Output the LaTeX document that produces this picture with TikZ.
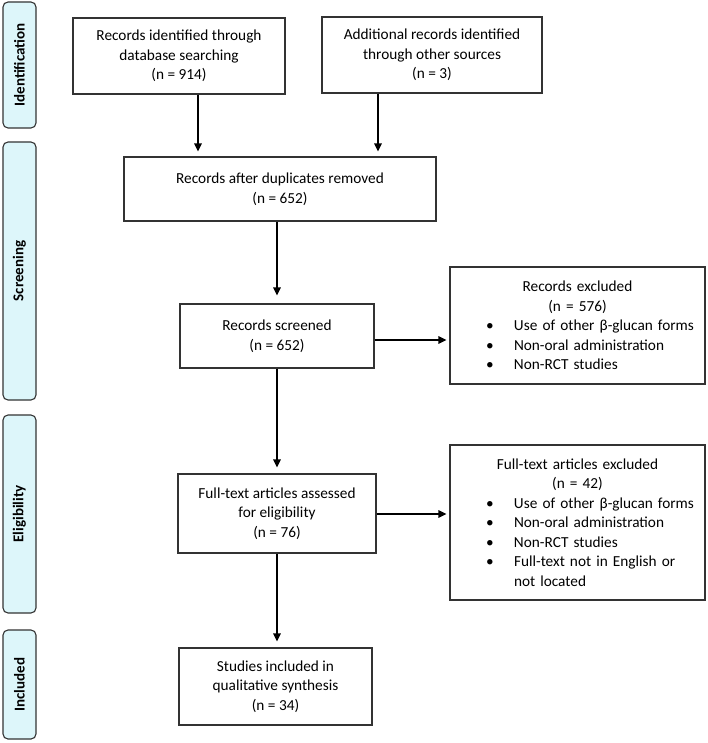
\documentclass[tikz,border=0pt]{standalone}
\usepackage{fontspec}
\setmainfont{Carlito}
\usetikzlibrary{arrows.meta}
\definecolor{barfill}{HTML}{DDF6FA}
\definecolor{edge}{HTML}{333333}
\tikzset{
  txt/.style={font=\fontsize{15.3}{19.5}\selectfont},
  box/.style={txt, draw=edge, line width=1.2pt, inner sep=0pt, align=center},
  ebox/.style={txt, draw=edge, line width=1.2pt, inner sep=0pt, align=left, text width=255pt, minimum width=255pt},
  bar/.style={draw=edge, fill=barfill, line width=1.1pt, rounded corners=5pt, minimum width=33pt, inner sep=0pt,
    font=\fontsize{15}{17}\selectfont\bfseries},
  arr/.style={line width=1.5pt, -{Triangle[length=8pt,width=7.5pt]}},
}
\newcommand{\bl}[1]{\hspace*{36pt}\makebox[28pt][l]{\textbullet}#1}
\newcommand{\ctr}[1]{\makebox[255pt][c]{#1}}
\begin{document}
\begin{tikzpicture}[x=1pt,y=-1pt]
\useasboundingbox (0,0) rectangle (707,743);
% side bars
\node[bar, minimum height=126pt] (id) at (19.5,65) {\rotatebox{90}{Identification}};
\node[bar, minimum height=258pt] (sc) at (19.5,271) {\rotatebox{90}{Screening}};
\node[bar, minimum height=198pt] (el) at (19.5,514) {\rotatebox{90}{Eligibility}};
\node[bar, minimum height=109pt] (in) at (19.5,684.5) {\rotatebox{90}{Included}};
% boxes
\node[box, minimum width=212pt, minimum height=76pt] (b1) at (179,56) {Records identified through\\database searching\\(n = 914)};
\node[box, minimum width=220pt, minimum height=76pt] (b2) at (432,55) {Additional records identified\\through other sources\\(n = 3)};
\node[box, minimum width=312pt, minimum height=64pt] (b3) at (280,189) {Records after duplicates removed\\(n = 652)};
\node[box, minimum width=194pt, minimum height=64pt] (b4) at (277,336) {Records screened\\(n = 652)};
\node[box, minimum width=198pt, minimum height=79pt] (b5) at (277,513.5) {Full-text articles assessed\\for eligibility\\(n = 76)};
\node[box, minimum width=193pt, minimum height=77pt] (b6) at (275.5,686.5) {Studies included in\\qualitative synthesis\\(n = 34)};
\node[ebox, minimum height=117pt] (e1) at (577.5,325.5) {\ctr{Records excluded}\\\ctr{(n = 576)}\\\bl{Use of other β-glucan forms}\\\bl{Non-oral administration}\\\bl{Non-RCT studies}};
\node[ebox, minimum height=155pt] (e2) at (577.5,522.5) {\ctr{Full-text articles excluded}\\\ctr{(n = 42)}\\\bl{Use of other β-glucan forms}\\\bl{Non-oral administration}\\\bl{Non-RCT studies}\\\bl{Full-text not in English or}\\\hspace*{64pt}not located};
% connectors
\draw[arr, shorten >=5pt] ([xshift=19pt]b1.south) -- ([xshift=19pt]b1.south |- b3.north);
\draw[arr, shorten >=5pt] ([xshift=-54pt]b2.south) -- ([xshift=-54pt]b2.south |- b3.north);
\draw[arr, shorten >=8pt] (b4.north |- b3.south) -- (b4.north);
\draw[arr, shorten >=3pt] ([yshift=-4pt]b4.east) -- ([yshift=-4pt]b4.east -| e1.west);
\draw[arr, shorten >=6pt] (b4.south) -- (b5.north);
\draw[arr, shorten >=3pt] ([yshift=-0.5pt]b5.east) -- ([yshift=-0.5pt]b5.east -| e2.west);
\draw[arr, shorten >=6pt] (b5.south) -- (b5.south |- b6.north);
\end{tikzpicture}
\end{document}
